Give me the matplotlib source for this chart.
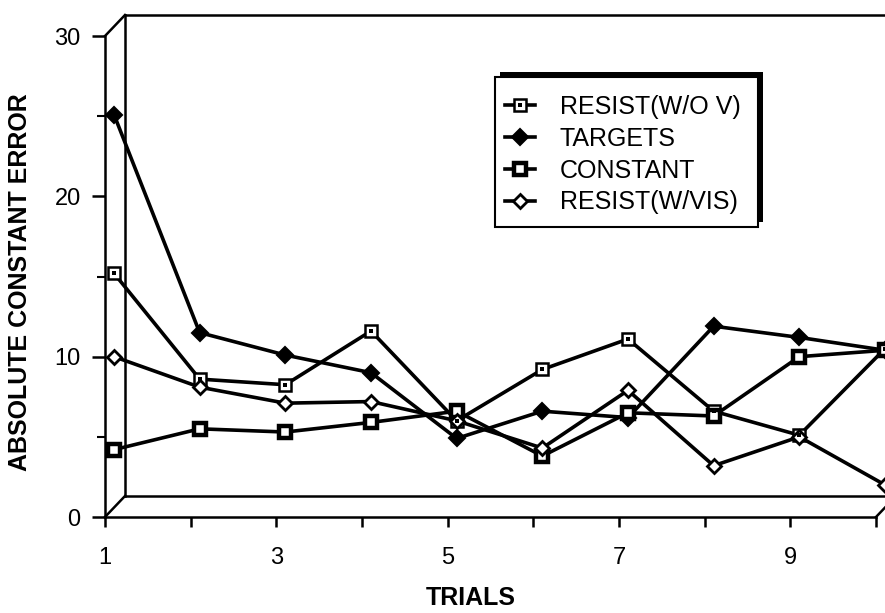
import matplotlib
matplotlib.use('Agg')
import matplotlib.pyplot as plt
from matplotlib.transforms import ScaledTranslation
from matplotlib.patches import Rectangle
from matplotlib.legend_handler import HandlerTuple

# ---- data ----
trials = [1, 2, 3, 4, 5, 6, 7, 8, 9, 10]
resist_wo_v = [15.2, 8.6, 8.25, 11.6, 6.0, 9.2, 11.1, 6.6, 5.1, 10.5]
targets = [25.1, 11.5, 10.1, 9.0, 4.9, 6.6, 6.2, 11.9, 11.2, 10.4]
constant = [4.2, 5.5, 5.3, 5.9, 6.6, 3.8, 6.5, 6.3, 10.0, 10.4]
resist_w_vis = [10.0, 8.1, 7.1, 7.2, 6.0, 4.3, 7.9, 3.2, 5.0, 2.0]
series_labels = ['RESIST(W/O V)', 'TARGETS', 'CONSTANT', 'RESIST(W/VIS)']
x_ticks = [1, 2, 3, 4, 5, 6, 7, 8, 9, 10]
x_tick_labels = ['1', '', '3', '', '5', '', '7', '', '9', '']
y_major = [0, 10, 20, 30]
y_major_labels = ['0', '10', '20', '30']
y_minor = [5, 15, 25]

plt.rcParams['font.family'] = ['Liberation Sans', 'DejaVu Sans']

W, H = 885, 613
fig = plt.figure(figsize=(W / 100, H / 100), dpi=100)
fig.patch.set_facecolor('white')

ax_l, ax_r, ax_b, ax_t = 105, 876, 517, 36
ax = fig.add_axes([ax_l / W, (H - ax_b) / H, (ax_r - ax_l) / W, (ax_b - ax_t) / H])
ax.set_xlim(1, 10)
ax.set_ylim(0, 30)
ax.patch.set_visible(False)
for s in ['top', 'right']:
    ax.spines[s].set_visible(False)
for s in ['left', 'bottom']:
    ax.spines[s].set_linewidth(1.8)

LW = 1.8
# depth offset of the pseudo-3D box (pixels -> data units)
dx_px, dy_px = 20, 21
DX = dx_px * 9 / (ax_r - ax_l)
DY = dy_px * 30 / (ax_b - ax_t)
frame_kw = dict(color='black', lw=LW, clip_on=False, solid_capstyle='projecting', zorder=1)
ax.plot([1, 1 + DX], [30, 30 + DY], **frame_kw)
ax.plot([1, 1 + DX], [0, DY], **frame_kw)
ax.plot([1 + DX, 1 + DX], [DY, 30 + DY], **frame_kw)
ax.plot([1 + DX, 10 + DX], [30 + DY, 30 + DY], **frame_kw)
ax.plot([1 + DX, 10 + DX], [DY, DY], **frame_kw)
ax.plot([10, 10 + DX], [0, DY], **frame_kw)
ax.plot([10 + DX, 10 + DX], [DY, 30 + DY], **frame_kw)

# data drawn slightly into depth
dtr = ax.transData + ScaledTranslation(9 / 100, 0, fig.dpi_scale_trans)
dlw = 2.6
l1, = ax.plot(trials, resist_wo_v, color='black', lw=dlw, marker='s', ms=8.5,
              mfc='white', mec='black', mew=1.8, transform=dtr, clip_on=False, zorder=3)
l1d, = ax.plot(trials, resist_wo_v, ls='none', marker='s', ms=2.2, mfc='black',
               mec='black', mew=0, transform=dtr, clip_on=False, zorder=4)
l2, = ax.plot(trials, targets, color='black', lw=dlw, marker='D', ms=8,
              mfc='black', mec='black', mew=1.5, transform=dtr, clip_on=False, zorder=3)
l3, = ax.plot(trials, constant, color='black', lw=dlw, marker='s', ms=9,
              mfc='white', mec='black', mew=3.2, transform=dtr, clip_on=False, zorder=3)
l4, = ax.plot(trials, resist_w_vis, color='black', lw=dlw, marker='D', ms=7.5,
              mfc='white', mec='black', mew=2.0, transform=dtr, clip_on=False, zorder=3)

# ticks
ax.set_xticks(x_ticks, x_tick_labels)
ax.set_yticks(y_major, y_major_labels)
ax.set_yticks(y_minor, minor=True)
ax.tick_params(axis='x', direction='out', length=7.5, width=1.8, pad=14, labelsize=17)
ax.tick_params(axis='y', which='major', direction='out', length=9.5, width=1.8, pad=8, labelsize=17)
ax.tick_params(axis='y', which='minor', direction='out', length=6, width=1.5)

fig.text(20 / W, 1 - 282 / H, 'ABSOLUTE CONSTANT ERROR', rotation=90, ha='center', va='center',
         fontsize=18, fontweight='bold')
fig.text(471 / W, 1 - 598 / H, 'TRIALS', ha='center', va='center', fontsize=18, fontweight='bold')

# legend box with shadow (top-right)
bx0, bx1, by0, by1 = 495, 758, 77, 227
sh = 5
fig.add_artist(Rectangle(((bx0 + sh) / W, (H - by1 + sh) / H), (bx1 - bx0) / W, (by1 - by0) / H,
                         transform=fig.transFigure, facecolor='black', edgecolor='black', lw=0, zorder=5))
fig.add_artist(Rectangle((bx0 / W, (H - by1) / H), (bx1 - bx0) / W, (by1 - by0) / H,
                         transform=fig.transFigure, facecolor='white', edgecolor='black', lw=1.5, zorder=6))
leg = fig.legend([(l1, l1d), l2, l3, l4], series_labels,
                 handler_map={tuple: HandlerTuple(ndivide=1, pad=0)},
                 loc='upper left', bbox_to_anchor=(505 / W, 1 - 95 / H),
                 frameon=False, fontsize=18, handlelength=1.2, handletextpad=1.0,
                 labelspacing=0.31, borderpad=0, borderaxespad=0)
leg.set_zorder(7)

fig.savefig('out.png', dpi=100)
